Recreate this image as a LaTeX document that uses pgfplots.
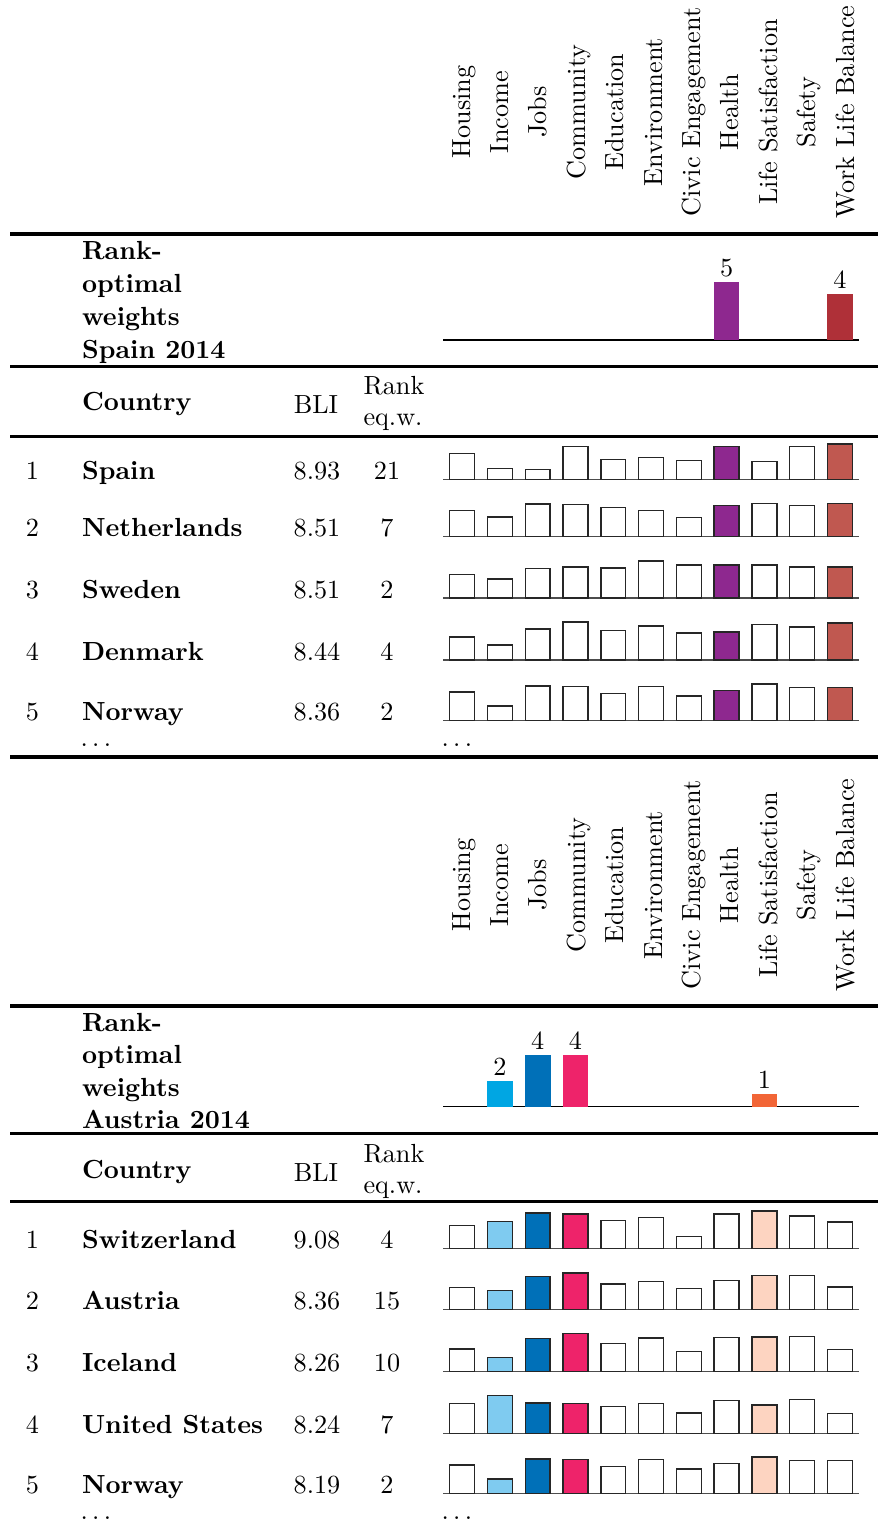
\documentclass[border=0pt]{standalone}
\usepackage{pgfplots}
\pgfplotsset{compat=1.18}
\usepackage{pgfplotstable}

\definecolor{healthc}{RGB}{142,40,143}
\definecolor{wlbw}{RGB}{175,48,56}
\definecolor{wlbc}{RGB}{192,88,80}
\definecolor{incw}{RGB}{0,166,227}
\definecolor{incc}{RGB}{127,203,240}
\definecolor{jobsc}{RGB}{0,112,184}
\definecolor{commc}{RGB}{238,35,106}
\definecolor{lifew}{RGB}{242,101,54}
\definecolor{lifec}{RGB}{253,212,193}

% indicator scores (0-10), one column per country
\pgfplotstableread{
idx spain neth swed denm norw
0  6.5 6.5 5.9 5.8 7.2
1  2.7 4.9 4.7 3.7 3.7
2  2.4 8.2 7.4 7.7 8.7
3  8.2 8.1 7.8 9.5 8.5
4  5.0 7.3 7.5 7.4 6.8
5  5.5 6.5 9.3 8.5 8.5
6  4.7 4.8 8.3 6.7 6.2
7  8.2 7.8 8.3 7.0 7.6
8  4.5 8.3 8.3 8.9 9.2
9  8.2 7.8 7.8 8.3 8.3
10 8.8 8.3 7.7 9.3 8.3
}\esptab

\pgfplotstableread{
idx swit aust icel usa norw
0  5.8 5.6 5.7 7.5 7.2
1  6.8 4.8 3.5 9.4 3.7
2  8.9 8.3 8.3 7.6 8.7
3  8.7 9.2 9.5 7.5 8.5
4  7.0 6.4 7.0 6.7 6.8
5  7.8 7.1 8.4 7.5 8.5
6  3.1 5.3 5.1 5.1 6.2
7  8.7 7.3 8.5 8.2 7.6
8  9.4 8.6 8.7 7.1 9.2
9  8.2 8.6 8.8 8.5 8.3
10 6.7 5.7 5.5 5.0 8.3
}\auttab

% rank-optimal weights
\pgfplotstableread{
idx esp aut
0  0 0
1  0 2
2  0 4
3  0 4
4  0 0
5  0 0
6  0 0
7  5 0
8  0 1
9  0 0
10 4 0
}\weights

% 1 px of the reference = 0.3817pt
\newcommand{\at}[1]{at={({443.3*0.3817pt},{-#1*0.3817pt})}}

\pgfplotsset{
  minibars/.style={scale only axis, width=158.6pt, xmin=-0.5, xmax=10.5,
    ymin=0, anchor=south west, hide axis, clip=false},
  rowbars/.style={minibars, height=15.27pt, ymax=10},
  wbar/.style={ybar, bar width=0.68, bar shift=0pt, draw=none,
    nodes near coords,
    every node near coord/.append style={font=\normalsize, inner sep=2pt, black}},
  cbar/.style={ybar, bar width=0.66, bar shift=0pt, draw=black!85,
    line width=0.55pt, fill=white},
}

\newcommand{\esprow}[2]{%
  \begin{axis}[rowbars, \at{#1}]
    \draw[black!70, line width=0.45pt] (axis cs:-0.5,0) -- (axis cs:10.5,0);
    \addplot[cbar] table[x=idx, y=#2] {\esptab};
    \addplot[cbar, fill=healthc, restrict x to domain=7:7] table[x=idx, y=#2] {\esptab};
    \addplot[cbar, fill=wlbc, restrict x to domain=10:10] table[x=idx, y=#2] {\esptab};
  \end{axis}}

\newcommand{\autrow}[2]{%
  \begin{axis}[rowbars, \at{#1}]
    \draw[black!70, line width=0.45pt] (axis cs:-0.5,0) -- (axis cs:10.5,0);
    \addplot[cbar] table[x=idx, y=#2] {\auttab};
    \addplot[cbar, fill=incc, restrict x to domain=1:1] table[x=idx, y=#2] {\auttab};
    \addplot[cbar, fill=jobsc, restrict x to domain=2:2] table[x=idx, y=#2] {\auttab};
    \addplot[cbar, fill=commc, restrict x to domain=3:3] table[x=idx, y=#2] {\auttab};
    \addplot[cbar, fill=lifec, restrict x to domain=8:8] table[x=idx, y=#2] {\auttab};
  \end{axis}}

\tikzset{lbl/.style={anchor=base west, inner sep=0pt},
  cbase/.style={anchor=base, inner sep=0pt}}

% y, position, country, BLI, rank with equal weights
\newcommand{\trow}[5]{%
  \node[cbase] at (32.5,#1) {#2};
  \node[lbl, font=\bfseries] at (81.5,#1) {#3};
  \node[cbase] at (317,#1) {#4};
  \node[cbase] at (387,#1) {#5};}

\newcommand{\headers}[1]{%
  \foreach \lab [count=\i from 0] in {Housing,Income,Jobs,Community,Education,
      Environment,Civic Engagement,Health,Life Satisfaction,Safety,Work Life Balance}
    \node[rotate=90, cbase] at ({470+38.4*\i},#1) {\lab};}

\begin{document}
\begin{tikzpicture}[x=0.3817pt, y=-0.3817pt]
\useasboundingbox (0,0) rectangle (878,1526);

% ---------- Spain 2014 ----------
\headers{112}
\draw[line width=1.4pt] (10,233.8) -- (878,233.8);
\node[lbl, font=\bfseries] at (81.5,259.3) {Rank-};
\node[lbl, font=\bfseries] at (81.5,292.3) {optimal};
\node[lbl, font=\bfseries] at (81.5,325.3) {weights};
\node[lbl, font=\bfseries] at (81.5,358.3) {Spain 2014};
\begin{axis}[minibars, \at{340}, height=22.03pt, ymax=5]
  \draw[black, line width=0.45pt] (axis cs:-0.5,0) -- (axis cs:10.5,0);
  \addplot[wbar, fill=healthc, restrict x to domain=7:7] table[x=idx, y=esp] {\weights};
  \addplot[wbar, fill=wlbw, restrict x to domain=10:10] table[x=idx, y=esp] {\weights};
\end{axis}
\draw[line width=1pt] (10,366.7) -- (878,366.7);
\node[lbl, font=\bfseries] at (81.5,410) {Country};
\node[cbase] at (316,413) {BLI};
\node[cbase] at (394,394) {Rank};
\node[cbase] at (393,425) {eq.w.};
\draw[line width=1pt] (10,436.7) -- (878,436.7);

\esprow{479.3}{spain}
\esprow{536.7}{neth}
\esprow{598}{swed}
\esprow{660}{denm}
\esprow{720.7}{norw}
\trow{479.3}{1}{Spain}{8.93}{21}
\trow{536.7}{2}{Netherlands}{8.51}{7}
\trow{598}{3}{Sweden}{8.51}{2}
\trow{660}{4}{Denmark}{8.44}{4}
\trow{720.7}{5}{Norway}{8.36}{2}
\node[lbl] at (80,746.8) {$\dots$};
\node[lbl] at (441,746.8) {$\dots$};
\draw[line width=1.3pt] (10,757) -- (878,757);

% ---------- Austria 2014 ----------
\headers{885}
\draw[line width=1.4pt] (10,1005.7) -- (878,1005.7);
\node[lbl, font=\bfseries] at (81.5,1031.7) {Rank-};
\node[lbl, font=\bfseries] at (81.5,1063.9) {optimal};
\node[lbl, font=\bfseries] at (81.5,1096.1) {weights};
\node[lbl, font=\bfseries] at (81.5,1128.3) {Austria 2014};
\begin{axis}[minibars, \at{1106.7}, height=19.58pt, ymax=4]
  \draw[black, line width=0.45pt] (axis cs:-0.5,0) -- (axis cs:10.5,0);
  \addplot[wbar, fill=incw, restrict x to domain=1:1] table[x=idx, y=aut] {\weights};
  \addplot[wbar, fill=jobsc, restrict x to domain=2:2] table[x=idx, y=aut] {\weights};
  \addplot[wbar, fill=commc, restrict x to domain=3:3] table[x=idx, y=aut] {\weights};
  \addplot[wbar, fill=lifew, restrict x to domain=8:8] table[x=idx, y=aut] {\weights};
\end{axis}
\draw[line width=1pt] (10,1133.7) -- (878,1133.7);
\node[lbl, font=\bfseries] at (81.5,1178) {Country};
\node[cbase] at (316,1181) {BLI};
\node[cbase] at (394,1162) {Rank};
\node[cbase] at (393,1193) {eq.w.};
\draw[line width=1pt] (10,1201.7) -- (878,1201.7);

\autrow{1248.7}{swit}
\autrow{1309.7}{aust}
\autrow{1371.7}{icel}
\autrow{1433.3}{usa}
\autrow{1493.7}{norw}
\trow{1248.7}{1}{Switzerland}{9.08}{4}
\trow{1309.7}{2}{Austria}{8.36}{15}
\trow{1371.7}{3}{Iceland}{8.26}{10}
\trow{1433.3}{4}{United States}{8.24}{7}
\trow{1493.7}{5}{Norway}{8.19}{2}
\node[lbl] at (80,1519.5) {$\dots$};
\node[lbl] at (441,1519.5) {$\dots$};
\end{tikzpicture}
\end{document}
